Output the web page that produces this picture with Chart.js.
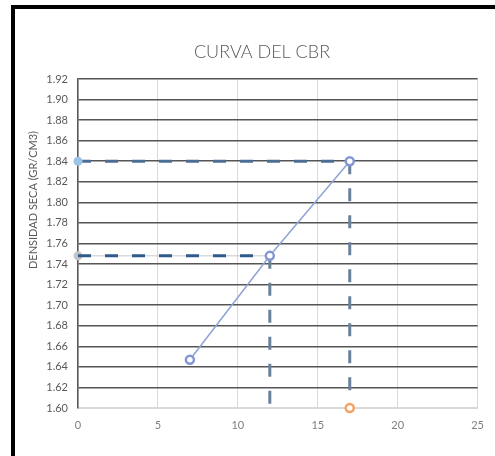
<!DOCTYPE html>
<html>
<head>
<meta charset="utf-8">
<script src="https://cdn.jsdelivr.net/npm/chart.js@4/dist/chart.umd.min.js"></script>
<style>
  html, body { margin: 0; padding: 0; background: #fff; overflow: hidden; }
  #frame { position: absolute; left: 11px; top: 5px; width: 600px; height: 600px; border: 4px solid #000; }
  #cbr { position: absolute; left: 0; top: 0; }
</style>
</head>
<body>
<div id="frame"></div>
<canvas id="cbr" width="495" height="456"></canvas>
<script>
// CBR curve: penetration (x) vs dry density (y)
const cbrX = [7, 12, 17];
const cbrDensity = [1.647, 1.748, 1.84];

// guide lines
const densityMax = 1.84;      // horizontal guide at maximum density
const densityDesign = 1.748;  // horizontal guide at design density
const cbrAtMax = 17;
const cbrAtDesign = 12;

const yTicks = { min: 1.60, max: 1.92, step: 0.02 };
const xTicks = { min: 0, max: 25, step: 5 };

const chartTitle = 'CURVA DEL CBR';
const yTitle = 'DENSIDAD SECA (GR/CM3)';

const pts = (xs, ys) => xs.map((x, i) => ({ x: x, y: ys[i] }));

const titlesPlugin = {
  id: 'titles',
  afterDraw(chart) {
    const ctx = chart.ctx;
    ctx.save();
    ctx.fillStyle = '#595959';
    ctx.textAlign = 'center';
    ctx.textBaseline = 'middle';
    ctx.font = '300 18px Lato';
    ctx.fillText(chartTitle, 262, 52);
    ctx.translate(33, 200);
    ctx.rotate(-Math.PI / 2);
    ctx.font = '11px Lato';
    ctx.fillText(yTitle, 0, 0);
    ctx.restore();
  }
};

new Chart(document.getElementById('cbr'), {
  type: 'scatter',
  data: {
    datasets: [
      {
        // main curve
        data: pts(cbrX, cbrDensity),
        showLine: true,
        borderColor: '#8FA2D8',
        borderWidth: 1.5,
        pointRadius: 4,
        pointBorderWidth: 2.5,
        pointBorderColor: '#8497D3',
        pointBackgroundColor: '#ffffff',
        order: 0,
        clip: false
      },
      {
        // vertical guide at maximum density
        data: [{ x: cbrAtMax, y: densityMax }, { x: cbrAtMax, y: yTicks.min }],
        showLine: true,
        borderColor: '#6A819C',
        borderWidth: 3,
        borderDash: [13, 14],
        pointRadius: [0, 4],
        pointBorderWidth: 2.5,
        pointBorderColor: '#F4A261',
        pointBackgroundColor: '#ffffff',
        order: 1,
        clip: false
      },
      {
        // vertical guide at design density
        data: [{ x: cbrAtDesign, y: densityDesign }, { x: cbrAtDesign, y: yTicks.min }],
        showLine: true,
        borderColor: '#6A819C',
        borderWidth: 3,
        borderDash: [13, 14],
        pointRadius: 0,
        order: 2,
        clip: false
      },
      {
        // horizontal guide at maximum density
        data: [{ x: 0, y: densityMax }, { x: cbrAtMax, y: densityMax }],
        showLine: true,
        borderColor: '#4C6E96',
        borderWidth: 3,
        borderDash: [13, 14],
        pointRadius: [4.5, 0],
        pointBorderWidth: 0,
        pointBackgroundColor: '#9DC3E6',
        order: 3,
        clip: false
      },
      {
        // horizontal guide at design density (dashed)
        data: [{ x: 0, y: densityDesign }, { x: cbrAtDesign, y: densityDesign }],
        showLine: true,
        borderColor: '#2E5B8C',
        borderWidth: 3,
        borderDash: [13, 14],
        pointRadius: 0,
        order: 4,
        clip: false
      },
      {
        // thin base line under the design-density guide
        data: [{ x: 0, y: densityDesign }, { x: cbrAtDesign, y: densityDesign }],
        showLine: true,
        borderColor: '#c8c8c8',
        borderWidth: 1,
        pointRadius: [4.5, 0],
        pointBorderWidth: 0,
        pointBackgroundColor: '#c4c4c4',
        order: 5,
        clip: false
      }
    ]
  },
  options: {
    responsive: false,
    animation: false,
    events: [],
    layout: { padding: { left: 0, right: 12, top: 79, bottom: 0 } },
    plugins: { legend: { display: false }, tooltip: { enabled: false }, title: { display: false } },
    scales: {
      x: {
        type: 'linear',
        min: xTicks.min,
        max: xTicks.max,
        afterFit(scale) { scale.height = 48; },
        ticks: {
          stepSize: xTicks.step,
          padding: 11,
          color: '#7f7f7f',
          font: { family: 'Lato', size: 11 }
        },
        grid: { color: '#d9d9d9', lineWidth: 1, drawTicks: false },
        border: { color: '#d9d9d9', width: 1 }
      },
      y: {
        type: 'linear',
        min: yTicks.min,
        max: yTicks.max,
        afterFit(scale) { scale.width = 78; },
        ticks: {
          stepSize: yTicks.step,
          padding: 10,
          color: '#595959',
          font: { family: 'Lato', size: 11 },
          callback: v => v.toFixed(2)
        },
        grid: {
          color: c => (Math.abs(c.tick.value - yTicks.min) < 1e-9 ? '#d9d9d9' : '#555555'),
          lineWidth: 1.5,
          drawTicks: false
        },
        border: { color: '#595959', width: 1.5 }
      }
    }
  },
  plugins: [titlesPlugin]
});
</script>
</body>
</html>
